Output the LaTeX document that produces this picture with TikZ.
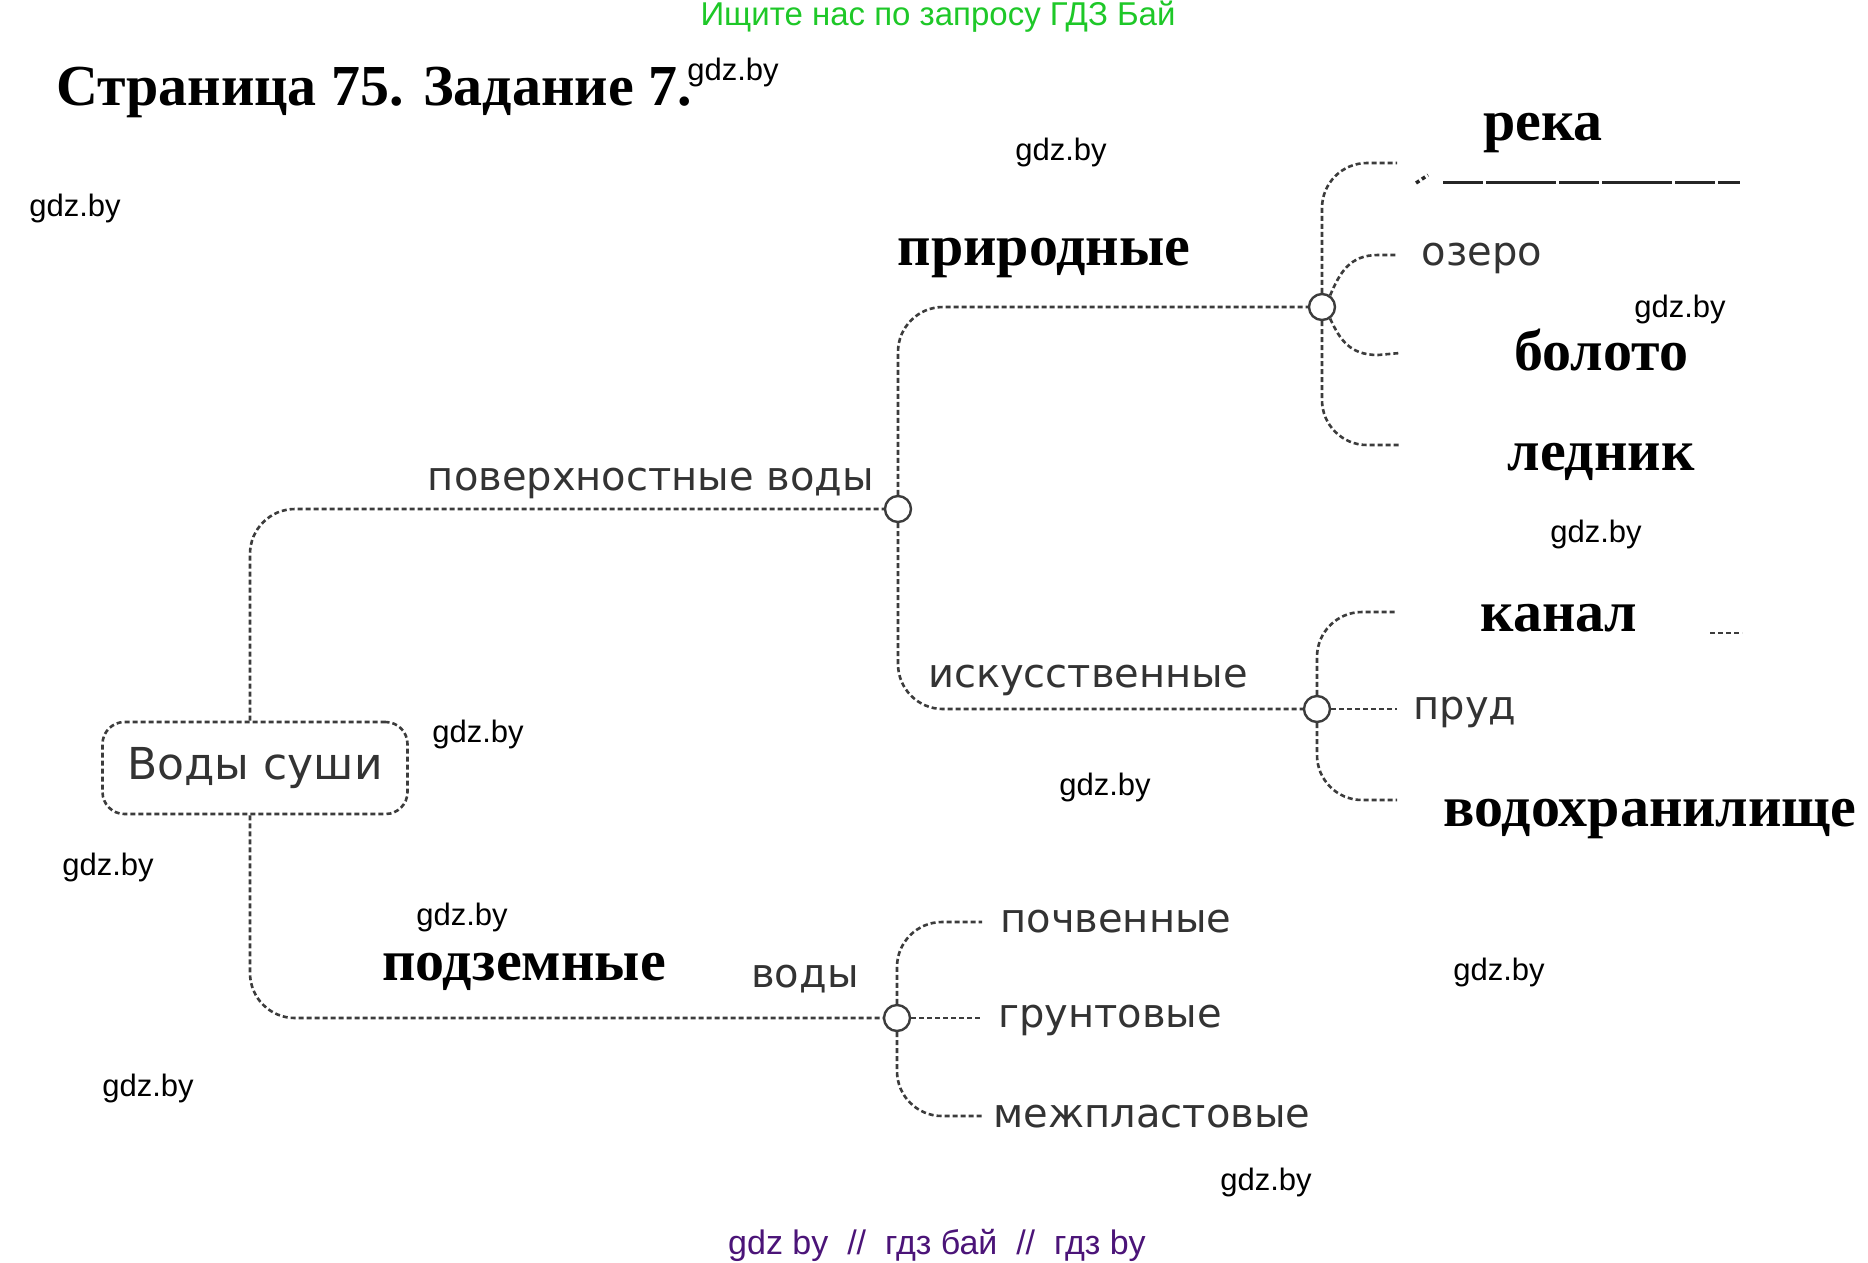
\documentclass[tikz,border=0pt]{standalone}
\usepackage{fontspec}
\setmainfont{Liberation Serif}
\newfontfamily\wmfont{Liberation Sans}
\newfontfamily\scanfont{DejaVu Sans}
\definecolor{topgreen}{RGB}{30,200,40}
\definecolor{botpurple}{RGB}{75,20,120}
\definecolor{ink}{RGB}{60,60,60}
\tikzset{
  conn/.style={draw=ink, line width=2.6pt, dash pattern=on 5pt off 3pt, rounded corners=45pt},
  hub/.style={circle, draw=ink, line width=2.4pt, fill=white, minimum size=26pt, inner sep=0pt},
  answer/.style={font=\fontsize{58}{60}\selectfont\bfseries, text=black, inner sep=0pt},
  scan/.style={font=\scanfont\fontsize{40}{42}\selectfont, text=black!80, inner sep=0pt},
  wm/.style={font=\wmfont\fontsize{31}{33}\selectfont, text=black, inner sep=0pt},
}
\begin{document}
\begin{tikzpicture}[x=1pt,y=-1pt]
\useasboundingbox[fill=white] (0,0) rectangle (1868,1262);

% header / footer
\node[font=\wmfont\fontsize{33}{35}\selectfont, text=topgreen, inner sep=0pt] (top) at (938,17) {Ищите нас по запросу ГДЗ Бай};
\node[anchor=west, font=\fontsize{58}{60}\selectfont\bfseries, inner sep=0pt] (title) at (56,92) {Страница 75. Задание 7.};
\node[font=\wmfont\fontsize{34}{36}\selectfont, text=botpurple, inner sep=0pt] (bot) at (937,1245) {gdz by~~//~~гдз бай~~//~~гдз by};

% hubs
\node[draw=ink, line width=2.6pt, dash pattern=on 5pt off 3pt, rounded corners=22pt, minimum width=305pt, minimum height=92pt, scan, font=\scanfont\fontsize{44}{46}\selectfont] (root) at (255,768) {Воды суши};
\node[hub] (c1) at (898,509) {};
\node[hub] (c2) at (1322,307) {};
\node[hub] (c3) at (1317,709) {};
\node[hub] (c4) at (897,1018) {};

% branch ends
\coordinate (ereka) at (1397,163);
\coordinate (eozero) at (1398,255);
\coordinate (eboloto) at (1400,353);
\coordinate (elednik) at (1400,445);
\coordinate (ekanal) at (1397,612);
\coordinate (eprud) at (1397,709);
\coordinate (evodo) at (1397,800);
\coordinate (epochv) at (982,922);
\coordinate (egrunt) at (982,1018);
\coordinate (emezh) at (982,1116);
\coordinate (ozk) at (1378,255);
\coordinate (bok) at (1378,355);

% connectors
\draw[conn] ([xshift=-5pt]root.north) |- (c1.west);
\draw[conn] ([xshift=-5pt]root.south) |- (c4.west);
\draw[conn] (c1.north) |- (c2.west);
\draw[conn] (c1.south) |- (c3.west);
\draw[conn] (c2.north) |- (ereka);
\draw[conn, rounded corners=0pt] (c2.55) .. controls (1340,272) and (1350,255) .. (ozk) -- (eozero);
\draw[conn, rounded corners=0pt] (c2.-55) .. controls (1340,340) and (1350,355) .. (bok) -- (eboloto);
\draw[conn] (c2.south) |- (elednik);
\draw[conn] (c3.north) |- (ekanal);
\draw[conn] (c3.east) -- (eprud);
\draw[conn] (c3.south) |- (evodo);
\draw[conn] (c4.north) |- (epochv);
\draw[conn] (c4.east) -- (egrunt);
\draw[conn] (c4.south) |- (emezh);

% answer line under "река" and small marks
\coordinate (ul1) at (1443,182);
\coordinate (ul2) at (1740,182);
\draw[draw=black!85, line width=3pt, dash pattern=on 40pt off 3pt on 70pt off 3pt] (ul1) -- (ul2);
\coordinate (m1) at (1416,183);
\coordinate (m2) at (1428,175);
\draw[draw=black!85, line width=3.5pt, dash pattern=on 4pt off 3pt] (m1) -- (m2);
\coordinate (k1) at (1710,633);
\coordinate (k2) at (1742,633);
\draw[draw=ink, line width=2pt, dash pattern=on 5pt off 3pt] (k1) -- (k2);

% scan labels
\node[scan] (lpov) at (651,483) {поверхностные воды};
\node[scan] (lisk) at (1088,680) {искусственные};
\node[scan] (lozero) at (1482,258) {озеро};
\node[scan] (lprud) at (1465,712) {пруд};
\node[scan] (lvody) at (805,979) {воды};
\node[scan] (lpochv) at (1116,922) {почвенные};
\node[scan] (lgrunt) at (1110,1020) {грунтовые};
\node[scan] (lmezh) at (1152,1117) {межпластовые};

% handwritten answers
\node[answer] (areka) at (1543,133) {река};
\node[answer] (aprir) at (1044,258) {природные};
\node[answer] (abol) at (1601,350) {болото};
\node[answer] (aled) at (1601,462) {ледник};
\node[answer] (akan) at (1559,618) {канал};
\node[answer] (avodo) at (1650,819) {водохранилище};
\node[answer] (apodz) at (524,972) {подземные};

% watermarks
\node[wm] (w1) at (733,72) {gdz.by};
\node[wm] (w2) at (1061,152) {gdz.by};
\node[wm] (w3) at (75,208) {gdz.by};
\node[wm] (w4) at (1680,309) {gdz.by};
\node[wm] (w5) at (1596,534) {gdz.by};
\node[wm] (w6) at (478,734) {gdz.by};
\node[wm] (w7) at (1105,787) {gdz.by};
\node[wm] (w8) at (108,867) {gdz.by};
\node[wm] (w9) at (462,917) {gdz.by};
\node[wm] (w10) at (1499,972) {gdz.by};
\node[wm] (w11) at (148,1088) {gdz.by};
\node[wm] (w12) at (1266,1182) {gdz.by};
\end{tikzpicture}
\end{document}
